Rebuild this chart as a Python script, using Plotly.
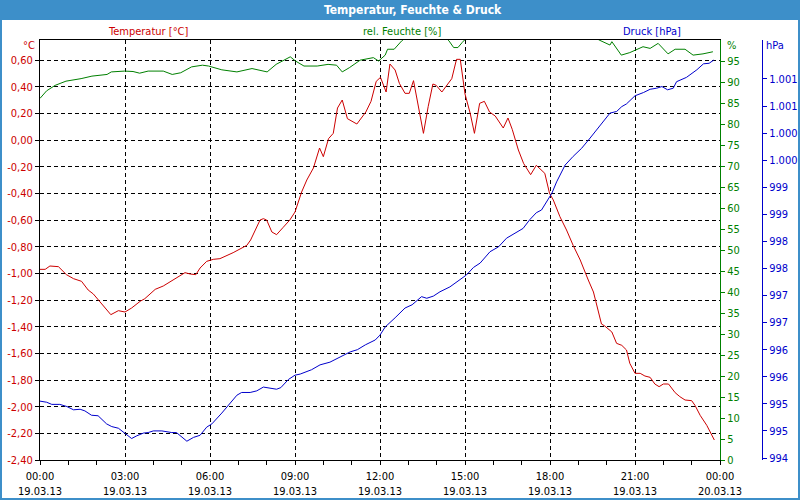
import math
import plotly.graph_objects as go

DAY = "2013-03-19 "

temp_times = ["00:00","00:11","00:21","00:39","00:56","01:11","01:28","01:42","01:53","02:04","02:18","02:30","02:46","03:00","03:14","03:32","03:42","03:56","04:04","04:21","04:42","05:07","05:18","05:30","05:39","05:53","06:07","06:21","06:49","07:18","07:26","07:46","07:53","08:00","08:11","08:21","08:35","08:49","09:00","09:14","09:25","09:39","09:52","10:00","10:11","10:21","10:30","10:40","10:51","11:11","11:30","11:41","11:52","12:01","12:13","12:21","12:32","12:41","12:53","13:02","13:11","13:21","13:32","13:42","13:52","13:59","14:11","14:32","14:42","14:50","15:00","15:11","15:20","15:31","15:41","15:52","16:04","16:21","16:31","16:40","16:53","17:04","17:19","17:31","17:49","17:59","18:07","18:21","18:35","18:49","19:04","19:21","19:32","19:37","19:44","19:49","19:56","20:11","20:21","20:32","20:42","20:49","21:00","21:11","21:21","21:32","21:42","21:51","22:00","22:11","22:25","22:35","22:46","23:00","23:07","23:18","23:32","23:40","23:48"]
temp_values = [-0.97,-0.97,-0.945,-0.95,-1.01,-1.04,-1.06,-1.125,-1.155,-1.20,-1.26,-1.31,-1.28,-1.29,-1.26,-1.21,-1.19,-1.15,-1.12,-1.095,-1.05,-0.995,-1.005,-1.01,-0.96,-0.91,-0.895,-0.89,-0.845,-0.79,-0.75,-0.60,-0.59,-0.60,-0.69,-0.71,-0.655,-0.60,-0.54,-0.39,-0.30,-0.21,-0.06,-0.125,0.01,0.05,0.24,0.30,0.16,0.12,0.21,0.29,0.44,0.47,0.36,0.57,0.525,0.425,0.35,0.35,0.445,0.25,0.05,0.25,0.42,0.41,0.36,0.46,0.605,0.605,0.345,0.20,0.05,0.275,0.29,0.21,0.18,0.09,0.165,0.08,-0.075,-0.175,-0.26,-0.19,-0.25,-0.40,-0.45,-0.575,-0.675,-0.79,-0.90,-1.05,-1.14,-1.21,-1.30,-1.38,-1.395,-1.44,-1.525,-1.54,-1.575,-1.675,-1.75,-1.75,-1.77,-1.78,-1.83,-1.85,-1.83,-1.83,-1.895,-1.925,-1.95,-1.955,-1.99,-2.065,-2.14,-2.20,-2.25]

hum_times = ["00:00","00:14","00:32","00:55","01:27","01:50","02:22","02:31","02:59","03:17","03:31","03:49","04:21","04:40","04:58","05:21","05:44","05:57","06:25","06:57","07:29","07:43","08:01","08:20","08:50","09:01","09:19","09:47","10:10","10:28","10:40","10:55","11:18","11:46","11:57","12:11","12:16","12:30","12:46","13:00","13:40","14:15","14:26","14:36","14:45","14:54","14:59","15:20","17:00","19:00","19:30","19:44","20:07","20:11","20:31","20:49","21:17","21:32","21:49","22:10","22:25","22:46","23:03","23:24","23:45"]
hum_values = [86.1,87.9,89.2,90.2,90.8,91.4,91.8,92.4,92.6,92.5,92.1,92.6,92.6,91.8,92.2,93.6,94.0,93.8,92.9,92.4,93.2,92.8,92.4,94.2,96.0,95.0,93.8,93.8,94.2,94.0,92.4,93.4,95.2,95.8,95.0,96.4,97.8,97.8,99.8,101.0,101.5,101.0,99.8,98.2,98.2,99.4,100.0,101.0,101.5,101.5,101.0,100.0,98.8,99.6,96.4,97.0,98.4,98.0,99.2,96.7,97.8,97.8,96.4,96.7,97.2]

pres_times = ["00:00","00:14","00:25","00:42","00:57","01:11","01:25","01:35","01:49","02:03","02:21","02:32","02:46","03:00","03:14","03:25","03:39","03:49","04:00","04:18","04:39","04:49","05:11","05:25","05:39","05:53","06:04","06:25","06:43","06:57","07:07","07:25","07:39","07:53","08:07","08:21","08:30","08:46","09:00","09:11","09:35","09:53","10:14","10:35","10:57","11:12","11:29","11:50","12:00","12:11","12:20","12:32","12:53","13:08","13:28","13:39","13:53","14:07","14:28","14:49","15:03","15:18","15:32","15:53","16:11","16:28","16:50","17:03","17:17","17:31","17:42","17:53","18:04","18:14","18:32","18:49","19:07","19:25","19:46","20:07","20:21","20:32","20:42","21:00","21:18","21:32","21:46","21:57","22:09","22:21","22:28","22:49","23:11","23:25","23:37","23:47"]
pres_values = [995.05,995.03,994.99,994.99,994.95,994.89,994.90,994.87,994.79,994.78,994.63,994.58,994.55,994.46,994.36,994.41,994.46,994.47,994.50,994.50,994.47,994.47,994.31,994.38,994.42,994.57,994.63,994.83,995.01,995.16,995.21,995.21,995.24,995.31,995.29,995.27,995.30,995.45,995.53,995.55,995.63,995.72,995.77,995.87,995.96,996.00,996.09,996.18,996.27,996.42,996.50,996.59,996.77,996.83,996.98,996.95,996.99,997.07,997.16,997.29,997.38,997.52,997.60,997.81,997.90,998.06,998.18,998.24,998.40,998.53,998.58,998.73,998.89,999.10,999.41,999.57,999.72,999.91,1000.15,1000.37,1000.40,1000.49,1000.54,1000.69,1000.75,1000.81,1000.83,1000.86,1000.80,1000.83,1000.95,1001.03,1001.17,1001.28,1001.29,1001.35]

x_tick_times = ["2013-03-19 00:00","2013-03-19 03:00","2013-03-19 06:00","2013-03-19 09:00","2013-03-19 12:00","2013-03-19 15:00","2013-03-19 18:00","2013-03-19 21:00","2013-03-20 00:00"]
x_tick_text = ["00:00<br>19.03.13","03:00<br>19.03.13","06:00<br>19.03.13","09:00<br>19.03.13","12:00<br>19.03.13","15:00<br>19.03.13","18:00<br>19.03.13","21:00<br>19.03.13","00:00<br>20.03.13"]

temp_ticks = [round(-2.4 + 0.2 * i, 2) for i in range(16)]
temp_text = [("%.2f" % (v if abs(v) > 1e-9 else 0.0)).replace(".", ",") for v in temp_ticks]
hum_ticks = list(range(0, 100, 5))
pres_ticks = [994 + 0.5 * i for i in range(15)]
pres_text = []
for v in pres_ticks:
    n = int(math.floor(v + 0.5))
    pres_text.append(("{:,}".format(n)).replace(",", "."))

RED = "#CC0000"
GREEN = "#008000"
BLUE = "#0000CC"
BAR = "#3D8FC9"
FONT = "DejaVu Sans Condensed, Liberation Sans, sans-serif"

W, H = 800, 500
ML, MR, MT, MB = 40, 30, 40, 40
PW = W - ML - MR
PH = H - MT - MB


def px(xp):
    return (xp - ML) / PW


def py(yp):
    return (H - MB - yp) / PH


fig = go.Figure()
fig.add_trace(go.Scatter(x=[DAY + t for t in temp_times], y=temp_values, mode="lines",
                         line=dict(color=RED, width=1), yaxis="y", name="Temperatur [°C]"))
fig.add_trace(go.Scatter(x=[DAY + t for t in hum_times], y=hum_values, mode="lines",
                         line=dict(color=GREEN, width=1), yaxis="y2", name="rel. Feuchte [%]"))
fig.add_trace(go.Scatter(x=[DAY + t for t in pres_times], y=pres_values, mode="lines",
                         line=dict(color=BLUE, width=1), yaxis="y3", name="Druck [hPa]"))

dom_end = (720 - ML) / PW

fig.update_layout(
    width=W, height=H,
    margin=dict(l=ML, r=MR, t=MT, b=MB, pad=0, autoexpand=False),
    paper_bgcolor="white", plot_bgcolor="white",
    showlegend=False,
    font=dict(family=FONT, size=11, color="black"),
    xaxis=dict(
        type="date", domain=[0, dom_end], automargin=False,
        range=["2013-03-19 00:00", "2013-03-20 00:00"],
        tickmode="array", tickvals=x_tick_times, ticktext=x_tick_text,
        showgrid=True, gridcolor="black", gridwidth=1, griddash="4px,3px",
        showline=True, linecolor="black", linewidth=1, mirror=True,
        ticks="outside", ticklen=4, tickcolor="black", ticklabelstandoff=2,
        minor=dict(dtick=3600000, ticks="outside", ticklen=4, tickcolor="black", showgrid=False),
        tickfont=dict(size=11, color="black"),
        zeroline=False, fixedrange=True,
    ),
    yaxis=dict(
        range=[-2.40, 0.75], automargin=False,
        tickmode="array", tickvals=temp_ticks, ticktext=temp_text,
        showgrid=True, gridcolor="black", gridwidth=1, griddash="4px,3px",
        showline=True, linecolor="black", linewidth=1,
        ticks="outside", ticklen=4, tickcolor="black",
        tickfont=dict(size=11, color=RED), zeroline=False,
    ),
    yaxis2=dict(
        range=[0, 100], overlaying="y", side="right", anchor="x", automargin=False,
        tickmode="array", tickvals=hum_ticks,
        showgrid=False, showline=True, linecolor=GREEN, linewidth=1,
        ticks="outside", ticklen=4, tickcolor=GREEN,
        tickfont=dict(size=11, color=GREEN), zeroline=False,
    ),
    yaxis3=dict(
        range=[993.963, 1001.72], overlaying="y", side="right", anchor="free", automargin=False,
        position=px(762),
        tickmode="array", tickvals=pres_ticks, ticktext=pres_text,
        showgrid=False, showline=True, linecolor=BLUE, linewidth=1,
        ticks="outside", ticklen=4, tickcolor=BLUE,
        tickfont=dict(size=11, color=BLUE), zeroline=False,
    ),
)

shapes = [
    dict(type="rect", xref="paper", yref="paper", x0=px(0), x1=px(800), y0=py(20), y1=py(0),
         fillcolor=BAR, line=dict(width=0), layer="above"),
    dict(type="rect", xref="paper", yref="paper", x0=px(1), x1=px(799), y0=py(499), y1=py(10),
         fillcolor="rgba(0,0,0,0)", line=dict(color=BAR, width=2), layer="above"),
]
fig.update_layout(shapes=shapes)

ann = [
    dict(text="<b>Temperatur, Feuchte & Druck</b>", x=px(413), y=py(10), font=dict(size=12, color="white"),
         xanchor="center", yanchor="middle"),
    dict(text="Temperatur [°C]", x=px(148), y=py(31), font=dict(size=11, color=RED),
         xanchor="center", yanchor="middle"),
    dict(text="rel. Feuchte [%]", x=px(402), y=py(31), font=dict(size=11, color=GREEN),
         xanchor="center", yanchor="middle"),
    dict(text="Druck [hPa]", x=px(652), y=py(31), font=dict(size=11, color=BLUE),
         xanchor="center", yanchor="middle"),
    dict(text="°C", x=px(37), y=py(46), font=dict(size=11, color=RED), xanchor="right", yanchor="middle"),
    dict(text="%", x=px(725), y=py(46), font=dict(size=11, color=GREEN), xanchor="left", yanchor="middle"),
    dict(text="hPa", x=px(764), y=py(46), font=dict(size=11, color=BLUE), xanchor="left", yanchor="middle"),
]
for a in ann:
    a.update(xref="paper", yref="paper", showarrow=False)
fig.update_layout(annotations=ann)

fig.write_html("out.html")
